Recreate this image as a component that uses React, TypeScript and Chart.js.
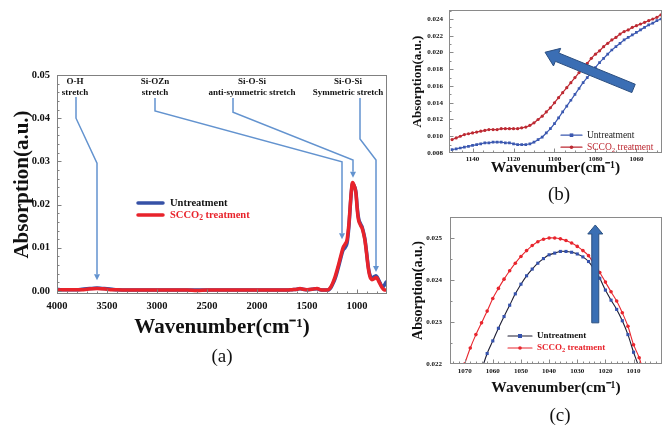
import React, { useEffect, useRef } from "react";
import { Chart, registerables } from "chart.js";
Chart.register(...registerables);

const SERIF = "'Liberation Serif', 'Times New Roman', Times, serif";

// ---------- Panel (a): full spectrum ----------
const waveA = [4000, 3950, 3900, 3850, 3800, 3750, 3700, 3650, 3600, 3550, 3500, 3450, 3400,
  3300, 3200, 3100, 3000, 2900, 2800, 2700, 2600, 2500, 2400, 2300, 2200, 2100, 2000, 1900, 1800, 1700,
  1650, 1600, 1570, 1540, 1500, 1450, 1400, 1370, 1340, 1300,
  1280, 1260, 1240, 1220, 1200, 1180, 1160, 1140, 1120, 1100,
  1090, 1080, 1070, 1060, 1050, 1045, 1040,
  1030, 1020, 1010, 1000,
  990, 980, 970, 960, 950, 940, 930, 920, 910, 900, 890, 880, 870, 860, 850,
  840, 830, 820, 810, 800, 790, 780, 770, 760, 750, 740, 730, 720, 710, 700];
const untreatA = [0.0004, 0.0003, 0.0003, 0.0003, 0.0003, 0.0004, 0.0005, 0.0006, 0.0007, 0.0006, 0.0005, 0.0004, 0.0003,
  0.0002, 0.0002, 0.0002, 0.0002, 0.0002, 0.0002, 0.0002, 0.0002, 0.0002, 0.0002, 0.0002, 0.0002, 0.0002, 0.0002, 0.0002, 0.0002, 0.0002,
  0.0003, 0.0004, 0.0005, 0.0004, 0.0003, 0.0004, 0.0005, 0.0003, 0.0002, 0.0002,
  0.0003, 0.0008, 0.0017, 0.0028, 0.0043, 0.0060, 0.0078, 0.0094, 0.0100, 0.0110,
  0.0127, 0.0152, 0.0186, 0.0219, 0.0243, 0.0249, 0.0248,
  0.0244, 0.0239, 0.0228, 0.0200,
  0.0177, 0.0164, 0.0158, 0.0153, 0.0149, 0.0141, 0.0131, 0.0119, 0.0101, 0.0081, 0.0061, 0.0046, 0.0037, 0.0032, 0.0030,
  0.0031, 0.0033, 0.0034, 0.0035, 0.0033, 0.0029, 0.0024, 0.0019, 0.0014, 0.0010, 0.0009, 0.0012, 0.0016, 0.0020, 0.0022];
const scco2A = [0.0002, 0.0003, 0.0003, 0.0003, 0.0003, 0.0003, 0.0004, 0.0005, 0.0006, 0.0005, 0.0004, 0.0003, 0.0003,
  0.0002, 0.0002, 0.0002, 0.0002, 0.0002, 0.0002, 0.0002, 0.0001, 0.0002, 0.0002, 0.0002, 0.0002, 0.0002, 0.0002, 0.0002, 0.0002, 0.0002,
  0.0003, 0.0004, 0.0006, 0.0004, 0.0003, 0.0004, 0.0006, 0.0003, 0.0002, 0.0002,
  0.0004, 0.0010, 0.0020, 0.0032, 0.0048, 0.0065, 0.0083, 0.0100, 0.0108, 0.0118,
  0.0135, 0.0158, 0.0190, 0.0222, 0.0246, 0.0251, 0.0250,
  0.0245, 0.0238, 0.0225, 0.0195,
  0.0172, 0.0160, 0.0155, 0.0150, 0.0146, 0.0138, 0.0128, 0.0116, 0.0098, 0.0078, 0.0058, 0.0043, 0.0033, 0.0028, 0.0026,
  0.0027, 0.0028, 0.0030, 0.0031, 0.0030, 0.0026, 0.0021, 0.0017, 0.0012, 0.0008, 0.0005, 0.0003, 0.0002, 0.0002, 0.0002];
const xTicksA = [4000, 3500, 3000, 2500, 2000, 1500, 1000];
const yTicksA = [0, 0.01, 0.02, 0.03, 0.04, 0.05];
const bandLabels = [
  ["O-H", "stretch"],
  ["Si-OZn", "stretch"],
  ["Si-O-Si", "anti-symmetric stretch"],
  ["Si-O-Si", "Symmetric stretch"],
];
// label anchor and leader path, in (wavenumber, absorption) units
const bandAnchors = [[3820, 0.0484], [3020, 0.0484], [2050, 0.0484], [1090, 0.0484]];
const bandPaths = [
  [[3810, 0.0449], [3810, 0.0400], [3600, 0.0296], [3600, 0.0025]],
  [[3020, 0.0447], [3020, 0.0417], [1150, 0.0299], [1150, 0.0120]],
  [[2240, 0.0447], [2240, 0.0414], [1040, 0.0303], [1040, 0.0262]],
  [[970, 0.0447], [970, 0.0352], [810, 0.0303], [810, 0.0044]],
];

// ---------- Panel (b): 1150-1048 zoom ----------
const waveB = [1150, 1148, 1146, 1144, 1142, 1140, 1138, 1136, 1134, 1132, 1130, 1128, 1126, 1124, 1122, 1120,
  1118, 1116, 1114, 1112, 1110, 1108, 1106, 1104, 1102, 1100, 1098, 1096, 1094, 1092, 1090, 1088, 1086, 1084,
  1082, 1080, 1078, 1076, 1074, 1072, 1070, 1068, 1066, 1064, 1062, 1060, 1058, 1056, 1054, 1052, 1050, 1048];
const untreatB = [0.0084, 0.0085, 0.0086, 0.0087, 0.0088, 0.0089, 0.0090, 0.0091, 0.0092, 0.0092, 0.0093, 0.0093,
  0.0093, 0.0092, 0.0092, 0.0091, 0.0090, 0.0090, 0.0090, 0.0091, 0.0093, 0.0096, 0.0099, 0.0104, 0.0109, 0.0115,
  0.0122, 0.0129, 0.0136, 0.0143, 0.0150, 0.0157, 0.0164, 0.0170, 0.0176, 0.0182, 0.0188, 0.0193, 0.0198, 0.0203,
  0.0207, 0.0211, 0.0215, 0.0218, 0.0221, 0.0224, 0.0227, 0.0230, 0.0233, 0.0235, 0.0238, 0.0240];
const scco2B = [0.0096, 0.0098, 0.0100, 0.0102, 0.0103, 0.0104, 0.0105, 0.0106, 0.0107, 0.0108, 0.0108, 0.0108,
  0.0109, 0.0109, 0.0109, 0.0109, 0.0109, 0.0110, 0.0111, 0.0113, 0.0116, 0.0120, 0.0124, 0.0129, 0.0134, 0.0140,
  0.0146, 0.0152, 0.0158, 0.0164, 0.0170, 0.0176, 0.0182, 0.0187, 0.0193, 0.0198, 0.0202, 0.0207, 0.0211, 0.0215,
  0.0218, 0.0222, 0.0225, 0.0227, 0.0230, 0.0232, 0.0234, 0.0236, 0.0238, 0.0240, 0.0242, 0.0245];
const xTicksB = [1140, 1120, 1100, 1080, 1060];
const yTicksB = [0.008, 0.010, 0.012, 0.014, 0.016, 0.018, 0.020, 0.022, 0.024];
const arrowB = [[1061.4, 0.01571], [1104.6, 0.02003]];

// ---------- Panel (c): peak zoom ----------
const waveC = [1072, 1070, 1068, 1066, 1064, 1062, 1060, 1058, 1056, 1054, 1052, 1050, 1048, 1046, 1044, 1042,
  1040, 1038, 1036, 1034, 1032, 1030, 1028, 1026, 1024, 1022, 1020, 1018, 1016, 1014, 1012, 1010, 1008, 1006];
const untreatC = [0.0199, 0.0204, 0.0209, 0.0214, 0.02185, 0.02225, 0.02255, 0.02285, 0.02313, 0.02340, 0.02367,
  0.02390, 0.02410, 0.02426, 0.02440, 0.02451, 0.02460, 0.02464, 0.02468, 0.02468, 0.02466, 0.02462, 0.02455,
  0.02444, 0.02426, 0.02404, 0.02376, 0.02352, 0.02330, 0.02303, 0.02270, 0.02228, 0.02190, 0.02140];
const scco2C = [0.02160, 0.02200, 0.02238, 0.02270, 0.02298, 0.02326, 0.02356, 0.02380, 0.02402, 0.02422, 0.02440,
  0.02456, 0.02470, 0.02482, 0.02491, 0.02497, 0.02500, 0.02500, 0.02498, 0.02494, 0.02488, 0.02480, 0.02470,
  0.02458, 0.02438, 0.02418, 0.02395, 0.02372, 0.02350, 0.02322, 0.02290, 0.02246, 0.02215, 0.02170];
const xTicksC = [1070, 1060, 1050, 1040, 1030, 1020, 1010];
const yTicksC = [0.022, 0.023, 0.024, 0.025];
const arrowC = [[1023.6, 0.02298], [1023.6, 0.02531]];

const seriesNames = ["Untreatment", "SCCO2 treatment"];

// ---------- helpers ----------
function steps(a: number, b: number, s: number) {
  const out: number[] = [];
  for (let v = a; v <= b + s * 1e-6; v += s) out.push(v);
  return out;
}
function xy(w: number[], v: number[]) {
  return w.map((x, i) => ({ x, y: v[i] }));
}

function drawRich(ctx: any, parts: { t: string; sub?: boolean }[], x: number, y: number, size: number, weight: string, color: string) {
  ctx.fillStyle = color;
  ctx.textAlign = "left";
  ctx.textBaseline = "middle";
  let cx = x;
  for (const p of parts) {
    const fs = p.sub ? size * 0.72 : size;
    ctx.font = `${weight} ${fs}px ${SERIF}`;
    ctx.fillText(p.t, cx, p.sub ? y + size * 0.3 : y);
    cx += ctx.measureText(p.t).width;
  }
}
function labelParts(name: string) {
  if (name.startsWith("SCCO2")) return [{ t: "SCCO" }, { t: "2", sub: true }, { t: name.slice(5) }];
  return [{ t: name }];
}

function blockArrow(ctx: any, x1: number, y1: number, x2: number, y2: number, shaft: number, headW: number, headL: number, fill: string, stroke: string) {
  const dx = x2 - x1, dy = y2 - y1, L = Math.hypot(dx, dy);
  const ux = dx / L, uy = dy / L, nx = -uy, ny = ux;
  const bx = x2 - ux * headL, by = y2 - uy * headL;
  const pts = [
    [x1 + nx * shaft / 2, y1 + ny * shaft / 2],
    [bx + nx * shaft / 2, by + ny * shaft / 2],
    [bx + nx * headW / 2, by + ny * headW / 2],
    [x2, y2],
    [bx - nx * headW / 2, by - ny * headW / 2],
    [bx - nx * shaft / 2, by - ny * shaft / 2],
    [x1 - nx * shaft / 2, y1 - ny * shaft / 2],
  ];
  ctx.beginPath();
  pts.forEach(([px, py], i) => (i ? ctx.lineTo(px, py) : ctx.moveTo(px, py)));
  ctx.closePath();
  ctx.fillStyle = fill;
  ctx.fill();
  ctx.strokeStyle = stroke;
  ctx.lineWidth = 1;
  ctx.stroke();
}

type Decor = {
  frame: string;
  xMinor: number[]; xMajor: number[]; yMinor: number[]; yMajor: number[];
  legend: { dx: number; dy: number; len: number; gap: number; row: number; size: number; weight: string;
    items: { name: string; line: string; lw: number; text: string; marker?: string; mcolor?: string; mr?: number }[] };
  annotations?: boolean;
  arrow?: { pts: number[][]; shaft: number; headW: number; headL: number; fill: string; stroke: string };
};

function decorPlugin(d: Decor) {
  return {
    id: "decor",
    afterDraw(chart: any) {
      const { ctx, chartArea: a, scales } = chart;
      const x = scales.x, y = scales.y;
      ctx.save();
      // frame
      ctx.strokeStyle = d.frame;
      ctx.lineWidth = 1;
      ctx.strokeRect(Math.round(a.left) + 0.5, Math.round(a.top) + 0.5, Math.round(a.right - a.left) - 1, Math.round(a.bottom - a.top) - 1);
      // inward ticks
      ctx.beginPath();
      const tx = (v: number, len: number) => {
        const px = Math.round(x.getPixelForValue(v)) + 0.5;
        if (px < a.left || px > a.right) return;
        ctx.moveTo(px, a.bottom); ctx.lineTo(px, a.bottom - len);
      };
      const ty = (v: number, len: number) => {
        const py = Math.round(y.getPixelForValue(v)) + 0.5;
        if (py < a.top || py > a.bottom) return;
        ctx.moveTo(a.left, py); ctx.lineTo(a.left + len, py);
      };
      d.xMinor.forEach((v) => tx(v, 2.5));
      d.xMajor.forEach((v) => tx(v, 4.5));
      d.yMinor.forEach((v) => ty(v, 2.5));
      d.yMajor.forEach((v) => ty(v, 4.5));
      ctx.stroke();

      // band annotations (panel a)
      if (d.annotations) {
        bandPaths.forEach((path, k) => {
          const pts = path.map(([w, v]) => [x.getPixelForValue(w), y.getPixelForValue(v)]);
          const [x1, y1] = pts[pts.length - 2];
          const [x2, y2] = pts[pts.length - 1];
          const ang = Math.atan2(y2 - y1, x2 - x1);
          const hl = 6, hw = 3;
          ctx.strokeStyle = "#6393cf";
          ctx.lineWidth = 1.5;
          ctx.beginPath();
          pts.forEach(([px, py], i) => {
            if (i === pts.length - 1) ctx.lineTo(px - Math.cos(ang) * hl, py - Math.sin(ang) * hl);
            else if (i) ctx.lineTo(px, py);
            else ctx.moveTo(px, py);
          });
          ctx.stroke();
          ctx.fillStyle = "#6393cf";
          ctx.beginPath();
          ctx.moveTo(x2, y2);
          ctx.lineTo(x2 - Math.cos(ang) * hl - Math.sin(ang) * hw, y2 - Math.sin(ang) * hl + Math.cos(ang) * hw);
          ctx.lineTo(x2 - Math.cos(ang) * hl + Math.sin(ang) * hw, y2 - Math.sin(ang) * hl - Math.cos(ang) * hw);
          ctx.closePath();
          ctx.fill();
          const lx = x.getPixelForValue(bandAnchors[k][0]);
          const ly = y.getPixelForValue(bandAnchors[k][1]);
          ctx.font = `bold 9px ${SERIF}`;
          ctx.fillStyle = "#111";
          ctx.textAlign = "center";
          ctx.textBaseline = "middle";
          bandLabels[k].forEach((t, i) => ctx.fillText(t, lx, ly + i * 11));
        });
      }

      if (d.arrow) {
        const [[w1, v1], [w2, v2]] = d.arrow.pts;
        blockArrow(ctx, x.getPixelForValue(w1), y.getPixelForValue(v1), x.getPixelForValue(w2), y.getPixelForValue(v2),
          d.arrow.shaft, d.arrow.headW, d.arrow.headL, d.arrow.fill, d.arrow.stroke);
      }

      // legend
      const L = d.legend;
      L.items.forEach((it, i) => {
        const lx = a.left + L.dx, ly = a.top + L.dy + i * L.row;
        ctx.strokeStyle = it.line;
        ctx.lineWidth = it.lw;
        ctx.lineCap = "round";
        ctx.beginPath();
        ctx.moveTo(lx, ly); ctx.lineTo(lx + L.len, ly);
        ctx.stroke();
        if (it.marker) {
          ctx.fillStyle = it.mcolor;
          const mx = lx + L.len / 2, r = it.mr || 2;
          ctx.beginPath();
          if (it.marker === "rect") ctx.rect(mx - r, ly - r, 2 * r, 2 * r);
          else ctx.arc(mx, ly, r, 0, Math.PI * 2);
          ctx.fill();
        }
        drawRich(ctx, labelParts(it.name), lx + L.len + L.gap, ly, L.size, L.weight, it.text);
      });
      ctx.restore();
    },
  };
}

type PanelOpts = {
  datasets: any[];
  xMin: number; xMax: number; yMin: number; yMax: number;
  xTicks: number[]; yTicks: number[]; yDigits: number;
  tickSize: number; xTickPad: number; yTickPad: number;
  yTitleSize: number; xTitleSize: number; yTitlePad: number;
  yWidth: number; xHeight: number;
  padding: { left: number; top: number; right: number; bottom: number };
  decor: Decor;
};

function buildConfig(p: PanelOpts): any {
  const tickFont = { family: SERIF, size: p.tickSize, weight: "bold" as const };
  return {
    type: "line",
    data: { datasets: p.datasets },
    plugins: [decorPlugin(p.decor)],
    options: {
      animation: false,
      responsive: false,
      devicePixelRatio: 1,
      layout: { padding: p.padding },
      plugins: { legend: { display: false }, tooltip: { enabled: false }, title: { display: false } },
      scales: {
        x: {
          type: "linear",
          reverse: true,
          min: p.xMin,
          max: p.xMax,
          grid: { display: false, drawTicks: false },
          border: { display: false },
          afterBuildTicks: (s: any) => { s.ticks = p.xTicks.map((value) => ({ value })); },
          afterFit: (s: any) => { s.height = p.xHeight; },
          ticks: { font: tickFont, color: "#111", padding: p.xTickPad, maxRotation: 0, autoSkip: false, callback: (v: any) => String(v) },
          title: {
            display: true,
            text: "Wavenumber(cm⁻¹)",
            font: { family: SERIF, size: p.xTitleSize, weight: "bold" },
            color: "#111",
            padding: { top: 0, bottom: 0 },
          },
        },
        y: {
          type: "linear",
          min: p.yMin,
          max: p.yMax,
          grid: { display: false, drawTicks: false },
          border: { display: false },
          afterBuildTicks: (s: any) => { s.ticks = p.yTicks.map((value) => ({ value })); },
          afterFit: (s: any) => { s.width = p.yWidth; },
          ticks: { font: tickFont, color: "#111", padding: p.yTickPad, autoSkip: false, callback: (v: any) => Number(v).toFixed(p.yDigits) },
          title: {
            display: true,
            text: "Absorption(a.u.)",
            font: { family: SERIF, size: p.yTitleSize, weight: "bold" },
            color: "#111",
            padding: { top: p.yTitlePad, bottom: 0 },
          },
        },
      },
    },
  };
}

const BLUE_A = "#3651a6";
const RED_A = "#e8232b";

function configA() {
  return buildConfig({
    datasets: [
      { label: seriesNames[1], data: xy(waveA, scco2A), borderColor: RED_A, borderWidth: 3.5, pointRadius: 0, tension: 0.3, cubicInterpolationMode: "monotone" },
      { label: seriesNames[0], data: xy(waveA, untreatA), borderColor: BLUE_A, borderWidth: 3.5, pointRadius: 0, tension: 0.3, cubicInterpolationMode: "monotone" },
    ],
    xMin: 700, xMax: 4000, yMin: -0.0007, yMax: 0.05,
    xTicks: xTicksA, yTicks: yTicksA, yDigits: 2,
    tickSize: 10.5, xTickPad: 6, yTickPad: 7,
    yTitleSize: 21, xTitleSize: 21, yTitlePad: 2,
    yWidth: 49, xHeight: 46,
    padding: { left: 8, top: 75, right: 13, bottom: 91 },
    decor: {
      frame: "#808080",
      xMinor: steps(700, 4000, 100), xMajor: xTicksA, yMinor: steps(0, 0.05, 0.002), yMajor: yTicksA,
      annotations: true,
      legend: {
        dx: 81, dy: 128, len: 25, gap: 7, row: 12, size: 10.5, weight: "bold",
        items: [
          { name: seriesNames[0], line: BLUE_A, lw: 3.5, text: "#111" },
          { name: seriesNames[1], line: RED_A, lw: 3.5, text: RED_A },
        ],
      },
    },
  });
}

const BLUE_B = "#3b58b0";
const RED_B = "#bd2a33";

function configB() {
  return buildConfig({
    datasets: [
      { label: seriesNames[1], data: xy(waveB, scco2B), borderColor: RED_B, borderWidth: 1.2, pointRadius: 1.6, pointStyle: "circle", pointBackgroundColor: RED_B, pointBorderWidth: 0, tension: 0.3 },
      { label: seriesNames[0], data: xy(waveB, untreatB), borderColor: BLUE_B, borderWidth: 1.2, pointRadius: 1.9, pointStyle: "rect", pointBackgroundColor: BLUE_B, pointBorderWidth: 0, tension: 0.3 },
    ],
    xMin: 1047.5, xMax: 1151.5, yMin: 0.008, yMax: 0.02505,
    xTicks: xTicksB, yTicks: yTicksB, yDigits: 3,
    tickSize: 7, xTickPad: 2, yTickPad: 6,
    yTitleSize: 13, xTitleSize: 15.5, yTitlePad: 10,
    yWidth: 49, xHeight: 24,
    padding: { left: 0, top: 7, right: 0, bottom: 23 },
    decor: {
      frame: "#8a8a8a",
      xMinor: steps(1050, 1150, 5), xMajor: xTicksB, yMinor: steps(0.008, 0.025, 0.001), yMajor: yTicksB,
      arrow: { pts: arrowB, shaft: 9, headW: 19, headL: 13, fill: "#3b6eb4", stroke: "#2a4d7f" },
      legend: {
        dx: 112, dy: 125, len: 21, gap: 5, row: 12, size: 9.5, weight: "normal",
        items: [
          { name: seriesNames[0], line: BLUE_B, lw: 1.2, text: "#222", marker: "rect", mcolor: BLUE_B, mr: 1.8 },
          { name: seriesNames[1], line: RED_B, lw: 1.2, text: RED_B, marker: "circle", mcolor: RED_B, mr: 1.8 },
        ],
      },
    },
  });
}

const BLUE_C = "#3552ad";
const LINE_C = "#1d1d33";
const RED_C = "#e8262e";

function configC() {
  return buildConfig({
    datasets: [
      { label: seriesNames[1], data: xy(waveC, scco2C), borderColor: RED_C, borderWidth: 1.1, pointRadius: 1.8, pointStyle: "circle", pointBackgroundColor: RED_C, pointBorderWidth: 0, tension: 0.3 },
      { label: seriesNames[0], data: xy(waveC, untreatC), borderColor: LINE_C, borderWidth: 1.1, pointRadius: 2.2, pointStyle: "rect", pointBackgroundColor: BLUE_C, pointBorderWidth: 0, tension: 0.3 },
    ],
    xMin: 999.9, xMax: 1075.2, yMin: 0.022, yMax: 0.0255,
    xTicks: xTicksC, yTicks: yTicksC, yDigits: 3,
    tickSize: 7, xTickPad: 3, yTickPad: 8,
    yTitleSize: 14, xTitleSize: 15.5, yTitlePad: 10,
    yWidth: 50, xHeight: 33,
    padding: { left: 0, top: 17, right: 0, bottom: 34 },
    decor: {
      frame: "#8a8a8a",
      xMinor: steps(1002, 1074, 2), xMajor: xTicksC, yMinor: steps(0.022, 0.0255, 0.0005), yMajor: yTicksC,
      arrow: { pts: arrowC, shaft: 7, headW: 15, headL: 9, fill: "#3a6fb4", stroke: "#2b5080" },
      legend: {
        dx: 58, dy: 119, len: 24, gap: 5, row: 12, size: 9, weight: "bold",
        items: [
          { name: seriesNames[0], line: LINE_C, lw: 1.1, text: "#111", marker: "rect", mcolor: BLUE_C, mr: 2 },
          { name: seriesNames[1], line: RED_C, lw: 1.1, text: RED_C, marker: "circle", mcolor: RED_C, mr: 1.8 },
        ],
      },
    },
  });
}

function Panel({ build, left, top, width, height }: { build: () => any; left: number; top: number; width: number; height: number }) {
  const ref = useRef<HTMLCanvasElement | null>(null);
  useEffect(() => {
    const chart = new Chart(ref.current as HTMLCanvasElement, build());
    return () => chart.destroy();
  }, []);
  return <canvas ref={ref} width={width} height={height} style={{ position: "absolute", left, top, width, height }} />;
}

function Letter({ text, x, y }: { text: string; x: number; y: number }) {
  return (
    <div style={{ position: "absolute", left: x, top: y, transform: "translate(-50%, -50%)", fontFamily: SERIF, fontSize: 19, color: "#111", lineHeight: 1 }}>
      {text}
    </div>
  );
}

export default function App() {
  return (
    <div style={{ position: "absolute", left: 0, top: 0, width: 665, height: 431, overflow: "hidden", background: "#fff" }}>
      <Panel build={configA} left={0} top={0} width={400} height={431} />
      <Panel build={configB} left={400} top={0} width={266} height={200} />
      <Panel build={configC} left={400} top={200} width={266} height={231} />
      <Letter text="(a)" x={222} y={355} />
      <Letter text="(b)" x={559} y={193} />
      <Letter text="(c)" x={560} y={414} />
    </div>
  );
}
